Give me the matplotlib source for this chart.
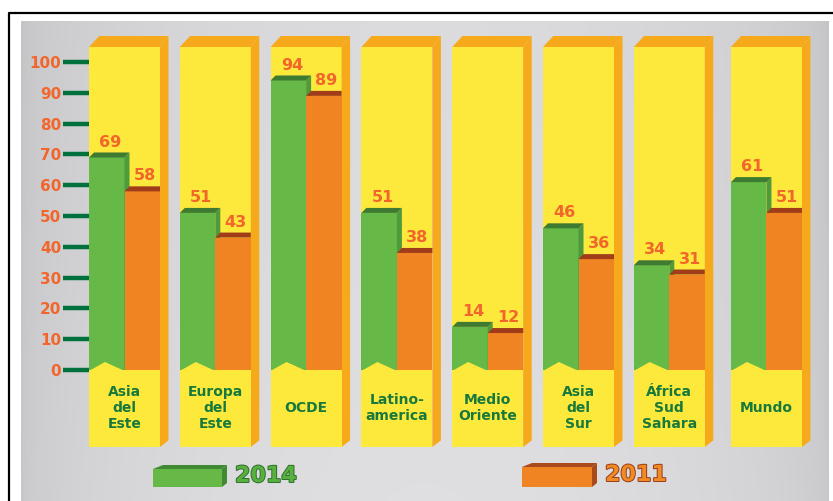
import matplotlib
matplotlib.use('Agg')
import matplotlib.pyplot as plt
from matplotlib.patches import Polygon, Rectangle
from matplotlib.lines import Line2D
import matplotlib.patheffects as pe
import numpy as np

# data
categorias = ['Asia\ndel\nEste', 'Europa\ndel\nEste', 'OCDE', 'Latino-\namerica',
              'Medio\nOriente', 'Asia\ndel\nSur', 'África\nSud\nSahara', 'Mundo']
v2014 = [69, 51, 94, 51, 14, 46, 34, 61]
v2011 = [58, 43, 89, 38, 12, 36, 31, 51]
yticks = [0, 10, 20, 30, 40, 50, 60, 70, 80, 90, 100]

# colours
AMARILLO = '#fde83c'
NARANJA_LADO = '#f7a91c'
VERDE = '#66b946'
VERDE_OSC = '#3f7a33'
NARANJA = '#f08322'
MARRON = '#a03c1a'
ROJO_TXT = '#f2662c'
VERDE_TXT = '#17793b'
VERDE_TICK = '#00703c'

W, H = 833, 501
fig = plt.figure(figsize=(W / 100, H / 100), dpi=100)
ax = fig.add_axes([0, 0, 1, 1])

# pixel layout -> data limits
U = 90.8            # px per category
PPU = 3.08          # px per value unit
x0_px = 89 + 35.5   # centre of first column
y0_px = 370         # value 0 (from top)
ax.set_xlim(-x0_px / U, (W - x0_px) / U)
ax.set_ylim(-(H - y0_px) / PPU, y0_px / PPU)

# background panel and frame
gx = np.linspace(0, 1, 200)
prof = 0.77 + 0.09 * np.sin(np.pi * gx) ** 0.5
gy = np.linspace(0, 1, 100)[:, None]
grad = prof[None, :] + 0.015 * gy
grad = np.clip(grad, 0, 1)
ax.imshow(np.dstack([grad, grad, grad * 1.012]).clip(0, 1), aspect='auto',
          extent=[21 / W, 829 / W, 0, 1 - 21 / H], transform=ax.transAxes,
          zorder=0, interpolation='bilinear')
fig.add_artist(Line2D([9 / W, 9 / W, 1], [0, 1 - 13 / H, 1 - 13 / H],
                      color='black', lw=1.6, transform=fig.transFigure))

pos = [i for i in range(len(categorias))]
pos[-1] = 7.07
cw = 71 / U
half = cw / 2
dx = 8.5 / U
dy = 11 / PPU
top = (y0_px - 47) / PPU
bot = -(447 - y0_px) / PPU
bdx = 5 / U
bdy = 5 / PPU

for i, x in enumerate(pos):
    l, r = x - half, x + half
    # yellow column with orange 3d edges
    ax.add_patch(Rectangle((l, bot), cw, top - bot, fc=AMARILLO, ec='none', zorder=1))
    ax.add_patch(Polygon([(r, bot), (r + dx, bot + dy * 0.6), (r + dx, top + dy), (r, top)],
                         fc=NARANJA_LADO, ec='none', zorder=1))
    ax.add_patch(Polygon([(l, top), (l + dx * 1.2, top + dy), (r + dx, top + dy), (r, top)],
                         fc=NARANJA_LADO, ec='none', zorder=1))

    # 2014 bar
    g, o = v2014[i], v2011[i]
    gl, gr = l, x
    ax.bar(gl, g, width=gr - gl, align='edge', color=VERDE, zorder=2)
    ax.add_patch(Polygon([(gr, 0), (gr + bdx, 0), (gr + bdx, g + bdy), (gr, g)],
                         fc='#4f9a3c', ec='none', zorder=2))
    ax.add_patch(Polygon([(gl, g), (gl + bdx, g + bdy), (gr + bdx, g + bdy), (gr, g)],
                         fc=VERDE_OSC, ec='none', zorder=2))
    # 2011 bar
    ol, orr = x, r
    ax.bar(ol, o, width=orr - ol, align='edge', color=NARANJA, zorder=3)
    ax.add_patch(Polygon([(ol, o), (ol + bdx, o + bdy), (orr, o + bdy), (orr, o)],
                         fc=MARRON, ec='none', zorder=3))

    # yellow notch under the green bar
    ax.add_patch(Polygon([(gl, -0.3), ((gl + gr) / 2 - 0.02, 2.6), (gr, -0.3)],
                         fc=AMARILLO, ec='none', zorder=4))
    ax.add_patch(Rectangle((l, bot), cw, -bot, fc=AMARILLO, ec='none', zorder=4))

    # labels
    ax.text(x, -12.3, categorias[i], ha='center', va='center', fontsize=10,
            fontweight='bold', color=VERDE_TXT, linespacing=1.2, zorder=5)
    ax.text((gl + gr) / 2 + 0.04, g + 5.0, str(g), ha='center', va='center',
            fontsize=11.5, fontweight='bold', color=ROJO_TXT, zorder=5)
    ax.text((ol + orr) / 2 + 0.03, o + 5.0, str(o), ha='center', va='center',
            fontsize=11.5, fontweight='bold', color=ROJO_TXT, zorder=5)

# y axis ticks
for s in ax.spines.values():
    s.set_visible(False)
ax.spines['left'].set_position(('data', pos[0] - half))
ax.set_xticks([])
ax.set_yticks(yticks)
ax.tick_params(axis='y', direction='out', length=19, width=3.2, color=VERDE_TICK,
               labelcolor=ROJO_TXT, labelsize=11, pad=1)
for t in ax.get_yticklabels():
    t.set_fontweight('bold')

# legend
def caja(xl, xr, yt, yb, face, dark):
    def p(x, y):
        return (x / W, 1 - y / H)
    fig.add_artist(Polygon([p(xl, yt + 4), p(xr - 5, yt + 4), p(xr - 5, yb), p(xl, yb)],
                           fc=face, ec='none', transform=fig.transFigure))
    fig.add_artist(Polygon([p(xl, yt + 4), p(xl + 10, yt), p(xr, yt), p(xr - 5, yt + 4)],
                           fc=dark, ec='none', transform=fig.transFigure))
    fig.add_artist(Polygon([p(xr - 5, yt + 4), p(xr, yt), p(xr, yb - 4), p(xr - 5, yb)],
                           fc=dark, ec='none', transform=fig.transFigure))

caja(153, 227, 465, 487, VERDE, '#3f8a33')
caja(522, 597, 463, 487, NARANJA, '#a84a1c')
fig.text(235 / W, 1 - 476 / H, '2014', ha='left', va='center', fontsize=16,
         fontweight='bold', color='#58b03f',
         path_effects=[pe.withStroke(linewidth=1.4, foreground='#2f6f2f')])
fig.text(605 / W, 1 - 475 / H, '2011', ha='left', va='center', fontsize=16,
         fontweight='bold', color='#f08a25',
         path_effects=[pe.withStroke(linewidth=1.4, foreground='#9a3b18')])

fig.savefig('out.png', dpi=100)
